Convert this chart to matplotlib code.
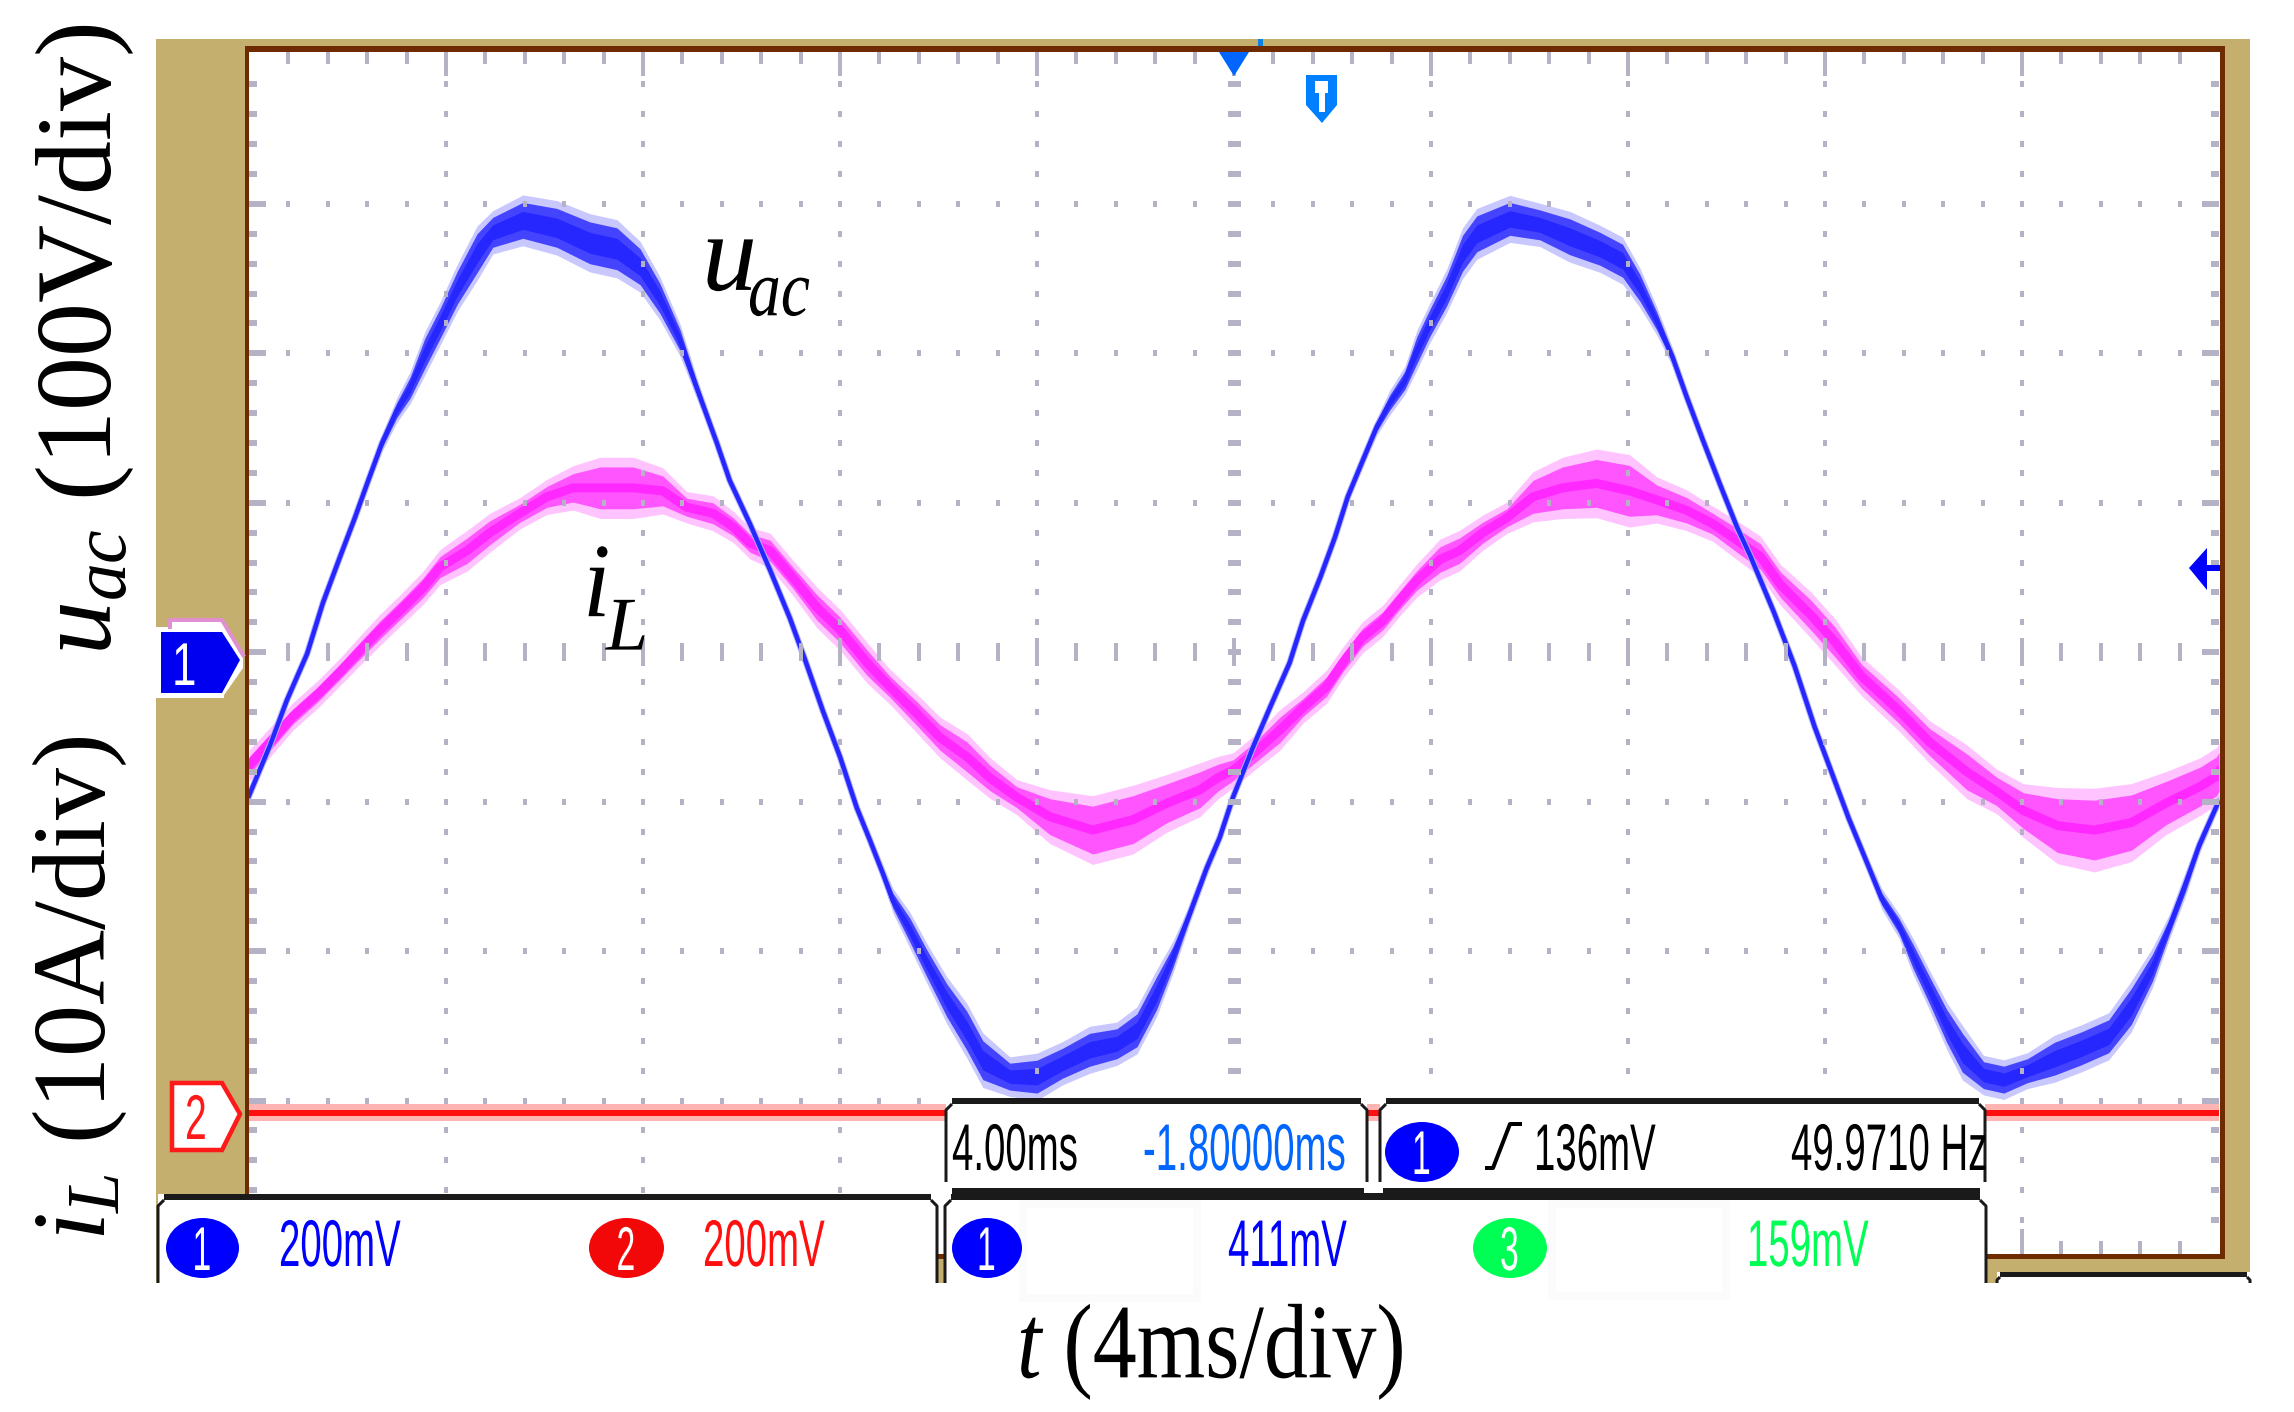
import numpy as np
import matplotlib
matplotlib.use("Agg")
import matplotlib.pyplot as plt
import matplotlib.patheffects as pe
from matplotlib.patches import Rectangle, Polygon, Ellipse
from matplotlib.transforms import Affine2D

plt.rcParams['font.family'] = ['Liberation Serif', 'DejaVu Serif']
plt.rcParams['mathtext.fontset'] = 'custom'
plt.rcParams['mathtext.rm'] = 'Liberation Serif'
plt.rcParams['mathtext.it'] = 'Liberation Serif:italic'

## channel 1, voltage: time (ms), value on screen (V), half width of the noise band (V)
u_t = [0, .43, .77, 1.18, 1.50, 1.85, 2.15, 2.40, 2.70, 3.00,
       3.27, 3.57, 3.88, 4.23, 4.63, 4.95, 5.56, 6.25, 6.92, 7.47,
       7.94, 8.34, 8.75, 9.09, 9.50, 9.76, 10.17, 10.58, 10.98, 11.29,
       11.65, 12.0, 12.34, 12.61, 12.87, 13.07, 13.42, 13.76, 14.17, 14.57,
       14.90, 15.45, 16.0, 16.52, 17.07, 17.62, 18.03, 18.43, 18.76, 19.10,
       19.45, 19.71, 19.98, 20.38, 20.73, 21.13, 21.40, 21.75, 22.05, 22.31,
       22.61, 22.90, 23.16, 23.47, 23.71, 23.97, 24.32, 24.64, 24.93, 25.60,
       26.21, 26.82, 27.43, 27.89, 28.24, 28.58, 28.91, 29.19, 29.52, 29.86,
       30.21, 30.49, 30.96, 31.38, 31.79, 32.13, 32.48, 32.83, 33.15, 33.50,
       33.78, 34.12, 34.47, 34.79, 35.22, 35.63, 36.11, 36.66, 37.21, 37.76,
       38.22, 38.65, 39.0, 39.32, 39.6, 39.95, 40]
u_v = [-96, -62, -32, -1, 33, 64, 90, 113, 140, 162,
       177, 200, 220, 244, 267, 281, 289, 284, 274, 270,
       258, 237, 209, 177, 140, 115, 86, 55, 23, -5,
       -39, -70, -104, -126, -148, -166, -186, -208, -233, -253,
       -273, -284, -284, -275, -266, -262, -253, -228, -204, -175,
       -144, -124, -97, -64, -37, -7, 21, 50, 77, 104,
       128, 151, 167, 182, 202, 220, 242, 267, 280, 290,
       286, 278, 270, 262, 244, 222, 197, 171, 142, 113,
       84, 64, 27, -9, -50, -80, -111, -139, -165, -183,
       -203, -226, -250, -268, -283, -286, -280, -272, -265, -257,
       -237, -211, -183, -155, -129, -103, -100]
u_hw = [1.5, 1.5, 1.5, 1.5, 1.5, 1.5, 1.5, 2, 3, 5,
        7, 10, 10, 11, 13, 10, 12, 13, 14, 14,
        12, 10, 7, 4, 2, 1.7, 1.5, 1.5, 1.5, 1.5,
        1.5, 1.5, 1.5, 2, 3, 5, 8, 9, 11, 13,
        13, 9, 11, 10, 11, 10, 11, 11, 7, 3.5,
        2.7, 2, 1.7, 1.7, 1.5, 1.5, 1.5, 1.5, 1.5, 1.5,
        2, 3, 5, 6, 9, 9, 10, 12, 12, 11,
        10, 12, 11, 11, 9, 6, 3.3, 2, 1.7, 1.5,
        1.5, 1.5, 1.5, 1.5, 1.5, 1.5, 1.5, 2, 4, 5,
        8, 9, 11, 13, 9, 9, 8, 11, 11, 11,
        12, 9, 5, 5, 3, 2, 2]

## channel 3, inductor current: time (ms), value on screen (A), half width (A)
i_t = [0, .89, 1.40, 1.85, 2.25, 2.66, 3.07, 3.53, 3.88, 4.43,
       4.89, 5.50, 6.05, 6.58, 7.13, 7.80, 8.40, 8.89, 9.42, 9.83,
       10.17, 10.58, 11.04, 11.53, 12.0, 12.55, 13.01, 13.56, 14.03, 14.58,
       15.04, 15.59, 16.26, 17.13, 17.95, 18.64, 19.31, 19.67, 19.98, 20.46,
       20.93, 21.40, 21.88, 22.21, 22.61, 23.02, 23.37, 23.71, 24.18, 24.58,
       25.05, 25.54, 26.07, 26.67, 27.36, 28.03, 28.58, 29.19, 29.72, 30.21,
       30.69, 31.10, 31.71, 32.20, 32.74, 33.50, 34.12, 34.88, 35.48, 36.03,
       36.72, 37.47, 38.22, 38.92, 39.61, 39.95, 40]
i_a = [-7.6, -4.3, -2.8, -1.3, .1, 1.5, 2.8, 4.3, 5.7, 6.8,
       8.0, 9.3, 10.4, 11.0, 11.0, 11.0, 10.8, 9.7, 9.3, 8.4,
       7.3, 6.8, 5.0, 3.0, 1.5, -.7, -2.3, -4.1, -5.7, -7.0,
       -8.4, -9.7, -11.0, -11.9, -11.2, -10.1, -9.2, -8.4, -7.9, -6.6,
       -5.2, -3.7, -2.3, -.7, 1.0, 2.1, 3.5, 4.8, 6.2, 6.8,
       8.0, 9.0, 10.4, 11.0, 11.3, 10.8, 10.2, 9.5, 8.6, 7.5,
       6.4, 4.5, 2.5, .7, -1.6, -3.9, -6.0, -8.0, -9.3, -10.6,
       -11.6, -11.9, -11.4, -10.1, -9.0, -8.3, -8.0]
i_hw = [.6, .5, .5, .5, .55, .6, .6, .65, .7, .85,
        .8, .6, .7, .95, 1.4, 1.4, 1.0, .6, .7, .6,
        .6, .7, .7, .85, .85, .85, .7, .8, .85, 1.0,
        .85, .7, 1.2, 1.6, 1.6, 1.3, 1.2, .9, .7, .7,
        .85, .6, .65, .6, .6, .6, .6, .65, .85, .85,
        .7, .6, 1.1, 1.4, 1.6, 1.7, 1.0, .85, .7, .8,
        .85, .85, 1.0, 1.0, .8, .85, .9, 1.2, .95, 1.2,
        1.8, 2.0, 1.85, 1.45, 1.3, 1.3, 1.3]

## channel 2 sits flat on its marker
ch2_t = [0, 40]
ch2_a = [-30.8, -30.8]

## readouts
bottom_readouts = [("200mV", 279, '#0000FF'), ("200mV", 703, '#FF1010'),
                   ("411mV", 1228, '#0000FF'), ("159mV", 1747, '#00FF55')]
top_readouts = [("4.00ms", 952, '#000000'), ("-1.80000ms", 1143, '#0066FF'),
                ("136mV", 1534, '#000000'), ("49.9710 Hz", 1791, '#000000')]

W, H = 2294, 1412
TAN = '#C4AF6E'
BROWN = '#6E2A00'
GRID = '#B4B2C4'
BLACK = '#1A1A1A'
t_major = np.arange(0, 40.01, 4)
t_minor = np.arange(0, 40.01, .8)
v_major = np.arange(-400, 400.1, 100)
v_minor = np.arange(-400, 400.1, 20)
PX_T = 40 / 1970
PX_V = 800 / 1195.5


def lw(px):
    return px * 0.72


class Squeeze(pe.AbstractPathEffect):
    # the scope font is very narrow, so rescale the glyphs around the text origin
    def __init__(self, sx, sy=1):
        super().__init__()
        self.sx = sx
        self.sy = sy

    def draw_path(self, renderer, gc, tpath, affine, rgbFace=None):
        renderer.draw_path(gc, tpath, Affine2D().scale(self.sx, self.sy) + affine, rgbFace)


fig = plt.figure(figsize=(W / 100, H / 100), dpi=100, facecolor='white')

bg = fig.add_axes([0, 0, 1, 1], zorder=0)
bg.set_xlim(0, W)
bg.set_ylim(H, 0)
bg.axis('off')

ax = fig.add_axes([249 / W, 1 - 1250 / H, 1970 / W, 1195.5 / H], zorder=1)
ax.set_xlim(0, 40)
ax.set_ylim(-400, 400)
ax.axis('off')

fg = fig.add_axes([0, 0, 1, 1], zorder=2)
fg.set_xlim(0, W)
fg.set_ylim(H, 0)
fg.axis('off')


def box(a, x0, y0, x1, y1, color, z=1):
    a.add_patch(Rectangle((x0, y0), x1 - x0, y1 - y0, facecolor=color, edgecolor='none', zorder=z))


## scope frame
box(bg, 156, 39, 2250, 1283, TAN)
box(bg, 245, 46, 2225, 1259, BROWN, 2)
box(bg, 249, 52, 2220, 1254, 'white', 3)

## traces
u_t, u_v, u_hw = np.array(u_t), np.array(u_v), np.array(u_hw)
i_t, i_a, i_hw = np.array(i_t), np.array(i_a), np.array(i_hw)
i_scr = i_a * 10
i_w = i_hw * 10

ax.fill_between(i_t, i_scr - i_w * 1.25 - 3, i_scr + i_w * 1.25 + 3, color='#FFC4FF', lw=0, zorder=1)
ax.fill_between(i_t, i_scr - i_w, i_scr + i_w, color='#FF55FF', lw=0, zorder=2)
ax.plot(i_t, i_scr, color='#FF28FF', lw=lw(9), zorder=3)

ax.fill_between(u_t, u_v - u_hw * 1.25 - 2, u_v + u_hw * 1.25 + 2, color='#C8C8FF', lw=0, zorder=4)
ax.plot(u_t, u_v, color='#B0B0FF', lw=lw(6.5), zorder=4)
ax.fill_between(u_t, u_v - u_hw, u_v + u_hw, color='#4444FF', lw=0, zorder=5)
ax.plot(u_t, u_v, color='#2626FF', lw=lw(4.5), zorder=6)
ax.fill_between(u_t, u_v - u_hw * .5, u_v + u_hw * .5, color='#2626FF', lw=0, zorder=6)

ch2 = np.array(ch2_a) * 10
ax.fill_between(ch2_t, ch2 - 5.5, ch2 + 6, color='#FFB4B4', lw=0, zorder=3)
ax.plot(ch2_t, ch2, color='#FF1010', lw=lw(6), solid_capstyle='butt', zorder=4)

## graticule, drawn over the traces like the scope does
kw = dict(colors=GRID, capstyle='butt', clip_on=False, zorder=8)
for t in t_major[1:-1]:
    ax.vlines([t] * len(v_minor[1:-1]), v_minor[1:-1] - 3 * PX_V, v_minor[1:-1] + 3 * PX_V, lw=lw(4), **kw)
for v in v_major[1:-1]:
    half = 9 if v == 0 else 3
    ax.vlines(t_minor[1:-1], [v - half * PX_V] * len(t_minor[1:-1]), [v + half * PX_V] * len(t_minor[1:-1]), lw=lw(4), **kw)
## long marks on the centre lines
ax.vlines(t_major[1:-1], -14 * PX_V, 14 * PX_V, lw=lw(4), **kw)
ax.hlines(v_minor[1:-1], 20 - 6.5 * PX_T, 20 + 6.5 * PX_T, lw=lw(6), **kw)
## edge ticks
ax.hlines(v_minor[1:-1], 0, 8 * PX_T, lw=lw(6), **kw)
ax.hlines(v_major[1:-1], 0, 17 * PX_T, lw=lw(6), **kw)
ax.hlines(v_minor[1:-1], 40 - 8 * PX_T, 40, lw=lw(6), **kw)
ax.hlines(v_major[1:-1], 40 - 17 * PX_T, 40, lw=lw(6), **kw)
ax.vlines(t_minor[1:-1], 400 - 9 * PX_V, 400 + 3 * PX_V, lw=lw(4), **kw)
ax.vlines(t_major[1:-1], 400 - 21 * PX_V, 400 + 3 * PX_V, lw=lw(4), **kw)
ax.vlines(t_minor[1:-1], -400 - 4 * PX_V, -400 + 9 * PX_V, lw=lw(4), **kw)
ax.vlines(t_major[1:-1], -400 - 4 * PX_V, -400 + 21 * PX_V, lw=lw(4), **kw)

## channel markers on the left
box(bg, 156, 627, 224, 698, 'white', 4)
fg.add_patch(Polygon([(170, 619), (222, 619), (243, 652), (243, 668), (222, 698), (156, 698), (156, 627), (170, 627)],
                     closed=True, facecolor='white', edgecolor='none', zorder=1))
fg.plot([170, 170, 222, 243], [627, 620, 620, 655], color='#E090D0', lw=lw(4), zorder=2)
fg.add_patch(Polygon([(161, 632), (222, 632), (240, 660), (222, 693), (161, 693)], closed=True, facecolor='#0000F0', edgecolor='none', zorder=3))
fg.add_patch(Polygon([(172, 1083), (222, 1083), (240, 1114), (222, 1150), (172, 1150)], closed=True, facecolor='white', edgecolor='#FF1A1A', lw=lw(4.5), zorder=3))


def scope_text(x, y, s, color, size_px=48, sx=.80, sy=1.375, z=6):
    fg.text(x, y, s, color=color, family=['Liberation Sans', 'DejaVu Sans'], fontsize=lw(size_px), ha='left', va='baseline',
            path_effects=[Squeeze(sx, sy)], zorder=z)


scope_text(172, 685, "1", 'white', size_px=44, sx=1.0)
scope_text(185, 1139, "2", '#FF1A1A', size_px=46, sx=.85)

## trigger and cursor markers
fg.add_patch(Polygon([(1219, 52), (1249, 52), (1234, 76)], closed=True, facecolor='#0066FF', edgecolor='none', zorder=3))
box(fg, 1258, 39, 1263, 46, '#0A84E0', 3)
fg.add_patch(Polygon([(1306, 75), (1337, 75), (1337, 105), (1322, 123), (1306, 105)], closed=True, facecolor='#0080FF', edgecolor='none', zorder=3))
fg.add_patch(Polygon([(1315, 81), (1328, 81), (1328, 93), (1325, 93), (1325, 112), (1319, 112), (1319, 93), (1315, 93)], closed=True, facecolor='white', edgecolor='none', zorder=4))
fg.add_patch(Polygon([(2189, 568), (2207, 548), (2207, 565), (2220, 565), (2220, 571), (2207, 571), (2207, 590)], closed=True, facecolor='#0000FF', edgecolor='none', zorder=3))


def panel(x0, x1, y0, y1, bar_h=6, chamfer=6, open_bottom=True):
    box(fg, x0, y0, x1, y1, 'white', 3)
    box(fg, x0 + chamfer, y0, x1 - chamfer, y0 + bar_h, BLACK, 5)
    yside = y1 if open_bottom else y1 - chamfer
    fg.plot([x0 + chamfer, x0, x0], [y0 + bar_h, y0 + bar_h + chamfer, yside], color=BLACK, lw=lw(3), solid_capstyle='butt', zorder=5)
    fg.plot([x1 - chamfer, x1, x1], [y0 + bar_h, y0 + bar_h + chamfer, yside], color=BLACK, lw=lw(3), solid_capstyle='butt', zorder=5)


## readout panels
panel(158, 937, 1194, 1283)
panel(945, 1986, 1194, 1283)
panel(1997, 2250, 1272, 1283, bar_h=5, chamfer=3)
panel(946, 1367, 1098, 1188, open_bottom=False)
panel(1380, 1985, 1098, 1188, open_bottom=False)
box(fg, 952, 1188, 1980, 1200, BLACK, 5)
box(fg, 1364, 1182, 1383, 1193, 'white', 6)

## faint boxes where cursor values were blanked
for x0, x1, y1 in [(1023, 1197, 1298), (1552, 1726, 1296)]:
    fg.add_patch(Rectangle((x0, 1204), x1 - x0, y1 - 1204, facecolor='white', edgecolor='#FBFBFB', lw=lw(8), zorder=4))

## channel badges
for x0, x1, y0, y1, color, label in [(166, 239, 1218, 1278, '#0000FF', "1"), (589, 664, 1218, 1278, '#F20808', "2"),
                                     (952, 1022, 1218, 1278, '#0000FF', "1"), (1473, 1547, 1218, 1278, '#00FF55', "3"),
                                     (1385, 1459, 1122, 1182, '#0000FF', "1")]:
    fg.add_patch(Ellipse(((x0 + x1) / 2, (y0 + y1) / 2), x1 - x0, y1 - y0, facecolor=color, edgecolor='none', zorder=6))
    scope_text((x0 + x1) / 2 - 10, y1 - 8, label, 'white', size_px=45, sx=.75, z=7)

for s, x, c in bottom_readouts:
    scope_text(x, 1266, s, c)
for s, x, c in top_readouts:
    scope_text(x, 1170, s, c)
fg.plot([1487, 1493, 1510, 1520], [1168, 1168, 1124, 1124], color='black', lw=lw(4), zorder=7)

## axis captions and trace names
fg.text(85, 339, r"$u_{ac}$ (100V/div)", rotation=90, fontsize=lw(108), ha='center', va='center', color='black')
fg.text(80, 988, r"$i_{L}$ (10A/div)", rotation=90, fontsize=lw(104), ha='center', va='center', color='black')
fg.text(1017, 1378, r"$t$ (4ms/div)", fontsize=lw(100), ha='left', va='baseline', color='black',
        path_effects=[Squeeze(.88, 1.06)])


def trace_name(x, y, s, size_px, sx=1.0, sy=1.0):
    fg.text(x, y, s, fontsize=lw(size_px), ha='left', va='baseline', color='black', zorder=9,
            path_effects=[Squeeze(sx, sy)])


trace_name(702, 290, r"$u$", 110)
trace_name(748, 316, r"$ac$", 80, sx=.82)
trace_name(583, 617, r"$i$", 66, sx=1.5, sy=1.6)
trace_name(606, 650, r"$L$", 76)

fig.savefig("out.png", dpi=100)
